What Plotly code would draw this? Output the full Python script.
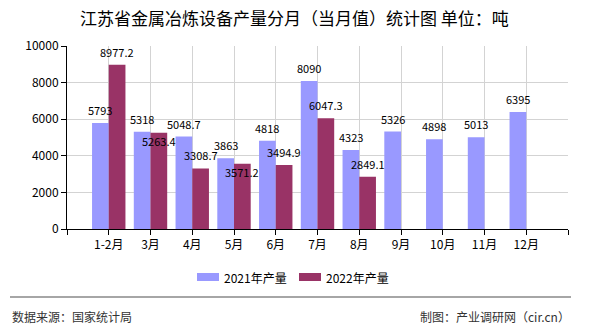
import plotly.graph_objects as go

categories = ["1-2月", "3月", "4月", "5月", "6月", "7月", "8月", "9月", "10月", "11月", "12月"]
values_2021 = [5793, 5318, 5048.7, 3863, 4818, 8090, 4323, 5326, 4898, 5013, 6395]
values_2022 = [8977.2, 5263.4, 3308.7, 3571.2, 3494.9, 6047.3, 2849.1, None, None, None, None]
labels_2021 = ["5793", "5318", "5048.7", "3863", "4818", "8090", "4323", "5326", "4898", "5013", "6395"]
labels_2022 = ["8977.2", "5263.4", "3308.7", "3571.2", "3494.9", "6047.3", "2849.1"]
series_names = ["2021年产量", "2022年产量"]
y_ticks = [0, 2000, 4000, 6000, 8000, 10000]
y_tick_text = ["0", "2000", "4000", "6000", "8000", "10000"]

W, H = 590, 330
L, R, T, B = 67, 22, 46, 101
PW, PH = W - L - R, H - T - B

def px_x(x):
    return (x - L) / PW

def px_y(y):
    return (H - B - y) / PH

BLUE = "#9999FF"
RED = "#993366"
COLORS = [BLUE, RED]
CJK = "Noto Sans CJK SC"

idx = list(range(len(categories)))
fig = go.Figure()
fig.add_trace(go.Bar(x=idx, y=values_2021, name=series_names[0], marker_color=BLUE,
                     marker_line_width=0))
fig.add_trace(go.Bar(x=idx, y=values_2022, name=series_names[1], marker_color=RED,
                     marker_line_width=0))

shift_down = {"5263.4", "3571.2"}
annotations = []
for i, (v, t) in enumerate(zip(values_2021, labels_2021)):
    annotations.append(dict(x=i - 0.2, y=v, xref="x", yref="y", text=t, showarrow=False,
                            yshift=13, font=dict(family=CJK, size=11, color="#000")))
for i, t in enumerate(labels_2022):
    v = values_2022[i]
    annotations.append(dict(x=i + 0.2, y=v, xref="x", yref="y", text=t, showarrow=False,
                            yshift=-8 if t in shift_down else 13,
                            font=dict(family=CJK, size=11, color="#000")))

annotations.append(dict(x=px_x(294), y=px_y(17), xref="paper", yref="paper",
                        text="江苏省金属冶炼设备产量分月（当月值）统计图 单位：吨",
                        showarrow=False, xanchor="center", yanchor="middle",
                        font=dict(family=CJK, size=17, color="#000")))
annotations.append(dict(x=px_x(10), y=px_y(316), xref="paper", yref="paper",
                        text="数据来源：国家统计局", showarrow=False, xanchor="left",
                        yanchor="middle", font=dict(family=CJK, size=12, color="#333")))
annotations.append(dict(x=px_x(572), y=px_y(316), xref="paper", yref="paper",
                        text="制图：产业调研网（cir.cn）", showarrow=False, xanchor="right",
                        yanchor="middle", font=dict(family=CJK, size=12, color="#333")))

shapes = [dict(type="line", xref="paper", yref="paper", x0=px_x(10), x1=px_x(571),
               y0=px_y(297), y1=px_y(297), line=dict(color="#888", width=1.5))]

# custom legend
legend_x = [197, 299]
for name, color, lx in zip(series_names, COLORS, legend_x):
    shapes.append(dict(type="rect", xref="paper", yref="paper", x0=px_x(lx), x1=px_x(lx + 22),
                       y0=px_y(281), y1=px_y(273), fillcolor=color, line=dict(width=0)))
    annotations.append(dict(x=px_x(lx + 25), y=px_y(277), xref="paper", yref="paper",
                            text=name, showarrow=False, xanchor="left", yanchor="middle",
                            font=dict(family=CJK, size=12, color="#000")))

fig.update_layout(
    width=W, height=H,
    margin=dict(l=L, r=R, t=T, b=B, pad=0),
    paper_bgcolor="white", plot_bgcolor="white",
    barmode="group", bargap=0.2, bargroupgap=0,
    showlegend=False,
    annotations=annotations,
    shapes=shapes,
    xaxis=dict(range=[-1, 11], tickmode="array", tickvals=list(range(-1, 12)),
               ticktext=[""] + categories + [""], showgrid=True, gridcolor="#d3d3d3",
               gridwidth=1, showline=True, linecolor="#000", linewidth=1,
               ticks="outside", ticklen=5, tickcolor="#000", zeroline=False,
               tickfont=dict(family=CJK, size=12, color="#000")),
    yaxis=dict(range=[0, 10000], tickmode="array", tickvals=y_ticks, ticktext=y_tick_text,
               showgrid=True, gridcolor="#d3d3d3", gridwidth=1, showline=True,
               linecolor="#000", linewidth=1, ticks="outside", ticklen=5, tickcolor="#000",
               zeroline=False, tickfont=dict(family=CJK, size=12, color="#000")),
)

fig.write_html("out.html")
